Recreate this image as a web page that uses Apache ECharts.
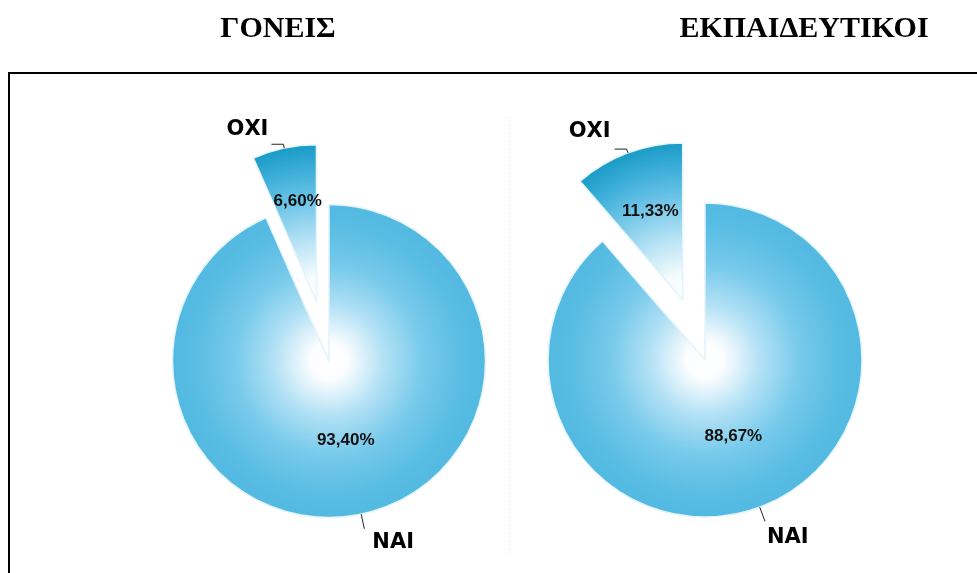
<!DOCTYPE html>
<html>
<head>
<meta charset="utf-8">
<script src="https://cdn.jsdelivr.net/npm/echarts@6/dist/echarts.min.js"></script>
<style>
html,body{margin:0;padding:0;background:#fff;}
#chart{width:977px;height:573px;}
</style>
</head>
<body>
<div id="chart"></div>
<script>
// ---- data ----
const titles = ['ΓΟΝΕΙΣ', 'ΕΚΠΑΙΔΕΥΤΙΚΟΙ'];
const categories = ['ΝΑΙ', 'ΟΧΙ'];
const parentsValues = [93.40, 6.60];
const teachersValues = [88.67, 11.33];

// ---- layout / style ----
const pies = [
  { title: titles[0], values: parentsValues, cx: 329, cy: 361, r: 156.5, titleX: 273,
    oxiPctShift: [-2, -20], nameShift: [[6, 14], [-1, -15]] },
  { title: titles[1], values: teachersValues, cx: 705, cy: 360, r: 157, titleX: 799,
    oxiPctShift: [-4, -12], nameShift: [[0, 16], [-2, -18]] }
];

function naiGrad(p) {
  return { type: 'radial', x: p.cx, y: p.cy, r: p.r, global: true,
    colorStops: [
      { offset: 0, color: '#ffffff' },
      { offset: 0.12, color: '#fbfdff' },
      { offset: 0.35, color: '#b3e1f5' },
      { offset: 0.6, color: '#78caeb' },
      { offset: 0.85, color: '#5abde3' },
      { offset: 1, color: '#52b9e1' }
    ] };
}
function oxiGrad(p) {
  return { type: 'radial', x: p.cx, y: p.cy, r: p.r, global: true,
    colorStops: [
      { offset: 0, color: '#ffffff' },
      { offset: 0.15, color: '#f7fcfe' },
      { offset: 0.4, color: '#b5e2f4' },
      { offset: 0.65, color: '#6cc4e7' },
      { offset: 0.85, color: '#3aadd8' },
      { offset: 1, color: '#1a9bc7' }
    ] };
}
const fmtPct = v => v.toFixed(2).replace('.', ',') + '%';

const series = [];
pies.forEach((p, i) => {
  const base = {
    type: 'pie',
    center: [p.cx, p.cy],
    radius: [0, p.r],
    startAngle: 90,
    clockwise: true,
    selectedMode: 'single',
    selectedOffset: i === 0 ? 61 : 64,
    animation: false,
    avoidLabelOverlap: false,
    emphasis: { disabled: true },
  };
  // slices + percentage labels
  series.push(Object.assign({}, base, {
    itemStyle: { borderColor: '#e4f4fb', borderWidth: 1.5 },
    select: { itemStyle: { borderColor: '#e4f4fb', borderWidth: 1.5 } },
    label: {
      show: true, position: 'inside',
      formatter: prm => fmtPct(prm.value),
      fontFamily: 'Liberation Sans, Arial, sans-serif',
      fontWeight: 'bold', fontSize: 17, color: '#111'
    },
    labelLine: { show: false },
    labelLayout: prm => prm.dataIndex === 1 ? { dx: p.oxiPctShift[0], dy: p.oxiPctShift[1] } : {},
    data: [
      { name: categories[0], value: p.values[0], itemStyle: { color: naiGrad(p) } },
      { name: categories[1], value: p.values[1], selected: true, itemStyle: { color: oxiGrad(p) } }
    ]
  }));
  // category name labels with leader lines
  series.push(Object.assign({}, base, {
    silent: true,
    z: 3,
    itemStyle: { color: 'rgba(0,0,0,0)', borderWidth: 0 },
    select: { itemStyle: { color: 'rgba(0,0,0,0)', borderWidth: 0 } },
    label: {
      show: true, position: 'outside',
      formatter: '{b}',
      fontFamily: 'DejaVu Sans, sans-serif',
      fontWeight: 'bold', fontSize: 21, color: '#000',
      distanceToLabelLine: 2
    },
    labelLine: { show: true, length: 12, length2: 4, lineStyle: { color: '#222', width: 1 } },
    labelLayout: prm => ({ dx: p.nameShift[prm.dataIndex][0], dy: p.nameShift[prm.dataIndex][1] }),
    data: [
      { name: categories[0], value: p.values[0], labelLine: { length: 15, length2: 0 } },
      { name: categories[1], value: p.values[1], selected: true, labelLine: { length: 4, length2: 12 } }
    ]
  }));
});

const chart = echarts.init(document.getElementById('chart'), null, { renderer: 'canvas' });
chart.setOption({
  backgroundColor: '#ffffff',
  animation: false,
  title: pies.map(p => ({
    text: p.title,
    left: p.titleX,
    top: 9,
    textAlign: 'center',
    textStyle: { fontFamily: 'Liberation Serif, Times New Roman, serif', fontWeight: 'bold', fontSize: 30, color: '#000' }
  })),
  graphic: [
    { type: 'rect', z: -1, shape: { x: 9, y: 73, width: 1100, height: 700 },
      style: { fill: 'none', stroke: '#000', lineWidth: 2 } },
    { type: 'line', z: -1, shape: { x1: 509.5, y1: 117, x2: 509.5, y2: 557 },
      style: { stroke: '#dcdcdc', lineWidth: 1, lineDash: [1, 3] } }
  ],
  series: series
});
</script>
</body>
</html>
